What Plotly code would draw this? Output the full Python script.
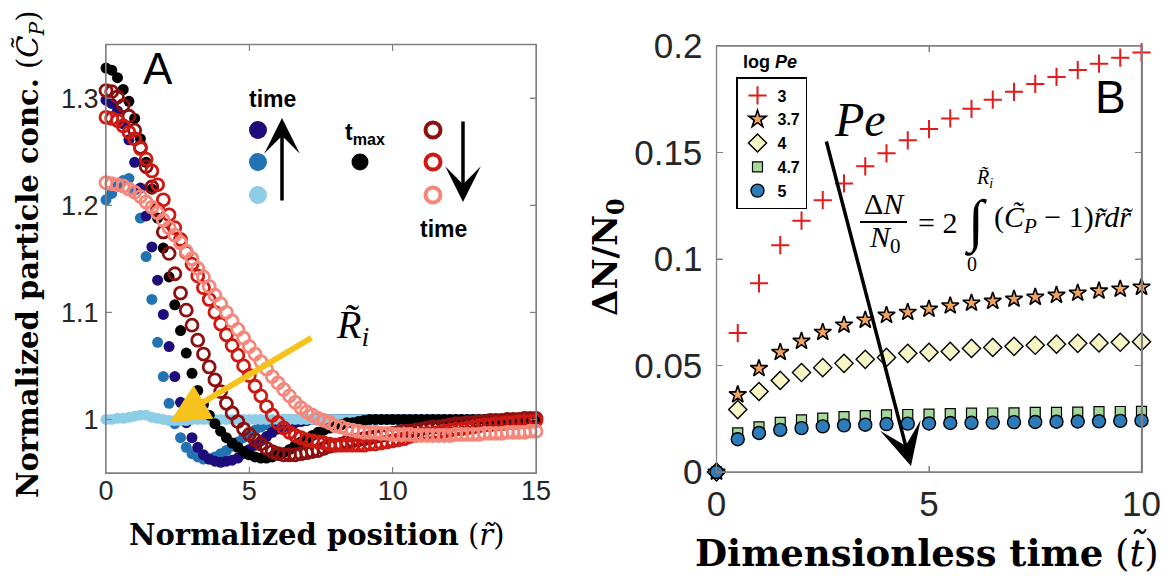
import plotly.graph_objects as go

FIG_W, FIG_H = 1175, 579

# ---------------- Panel A: radial concentration profiles ----------------
r_pos = [
    0, 0.2, 0.4, 0.6, 0.8, 1.0, 1.2, 1.4, 1.6, 1.8,
    2.0, 2.2, 2.4, 2.6, 2.8, 3.0, 3.2, 3.4, 3.6, 3.8,
    4.0, 4.2, 4.4, 4.6, 4.8, 5.0, 5.2, 5.4, 5.6, 5.8,
    6.0, 6.2, 6.4, 6.6, 6.8, 7.0, 7.2, 7.4, 7.6, 7.8,
    8.0, 8.2, 8.4, 8.6, 8.8, 9.0, 9.2, 9.4, 9.6, 9.8,
    10.0, 10.2, 10.4, 10.6, 10.8, 11.0, 11.2, 11.4, 11.6, 11.8,
    12.0, 12.2, 12.4, 12.6, 12.8, 13.0, 13.2, 13.4, 13.6, 13.8,
    14.0, 14.2, 14.4, 14.6, 14.8, 15.0,
]

conc_early = [
    1.000, 1.000, 1.001, 1.001, 1.002, 1.003, 1.004, 1.004, 1.002, 1.001,
    1.000, 0.999, 0.999, 0.999, 0.999, 1.000, 1.000, 1.000, 1.000, 1.000,
    1.000, 1.000, 1.000, 1.000, 1.000, 1.000, 1.000, 1.000, 1.000, 1.000,
    1.000, 1.000, 1.000, 1.000, 1.000, 1.000, 1.000, 1.000, 1.000, 1.000,
    1.000, 1.000, 1.000, 1.000, 1.000, 1.000, 1.000, 1.000, 1.000, 1.000,
    1.000, 1.000, 1.000, 1.000, 1.000, 1.000, 1.000, 1.000, 1.000, 1.000,
    1.000, 1.000, 1.000, 1.000, 1.000, 1.000, 1.000, 1.000, 1.000, 1.000,
    1.000, 1.000, 1.000, 1.000, 1.000, 1.000,
]
conc_mid = [
    1.205, 1.211, 1.218, 1.223, 1.225, 1.214, 1.188, 1.152, 1.112, 1.072,
    1.040, 1.015, 0.996, 0.983, 0.974, 0.968, 0.965, 0.963, 0.963, 0.965,
    0.968, 0.971, 0.975, 0.979, 0.983, 0.987, 0.990, 0.993, 0.995, 0.997,
    0.999, 1.000, 1.000, 1.000, 1.000, 1.000, 1.000, 1.000, 1.000, 1.000,
    1.000, 1.000, 1.000, 1.000, 1.000, 1.000, 1.000, 1.000, 1.000, 1.000,
    1.000, 1.000, 1.000, 1.000, 1.000, 1.000, 1.000, 1.000, 1.000, 1.000,
    1.000, 1.000, 1.000, 1.000, 1.000, 1.000, 1.000, 1.000, 1.000, 1.000,
    1.000, 1.000, 1.000, 1.000, 1.000, 1.000,
]
conc_late = [
    1.298, 1.295, 1.288, 1.276, 1.261, 1.240, 1.216, 1.190, 1.161, 1.130,
    1.098, 1.068, 1.040, 1.016, 0.997, 0.983, 0.974, 0.967, 0.963, 0.961,
    0.960, 0.961, 0.962, 0.964, 0.968, 0.972, 0.976, 0.980, 0.984, 0.988,
    0.991, 0.993, 0.995, 0.997, 0.998, 0.999, 1.000, 1.000, 1.000, 1.000,
    1.000, 1.000, 1.000, 1.000, 1.000, 1.000, 1.000, 1.000, 1.000, 1.000,
    1.000, 1.000, 1.000, 1.000, 1.000, 1.000, 1.000, 1.000, 1.000, 1.000,
    1.000, 1.000, 1.000, 1.000, 1.000, 1.000, 1.000, 1.000, 1.000, 1.000,
    1.000, 1.000, 1.000, 1.000, 1.000, 1.000,
]
conc_tmax = [
    1.328, 1.326, 1.319, 1.308, 1.297, 1.281, 1.262, 1.240, 1.215, 1.188,
    1.160, 1.133, 1.107, 1.083, 1.062, 1.043, 1.027, 1.014, 1.004, 0.996,
    0.989, 0.983, 0.978, 0.974, 0.970, 0.967, 0.965, 0.964, 0.964, 0.965,
    0.967, 0.969, 0.972, 0.976, 0.979, 0.982, 0.985, 0.988, 0.990, 0.992,
    0.994, 0.995, 0.997, 0.997, 0.998, 0.999, 1.000, 1.000, 1.000, 1.000,
    1.000, 1.000, 1.000, 1.000, 1.000, 1.000, 1.000, 1.000, 1.000, 1.000,
    1.000, 1.000, 1.000, 1.000, 1.000, 1.000, 1.000, 1.000, 1.000, 1.000,
    1.000, 1.000, 1.000, 1.000, 1.000, 1.000,
]
conc_post1 = [
    1.307, 1.306, 1.301, 1.293, 1.283, 1.270, 1.254, 1.236, 1.217, 1.196,
    1.175, 1.155, 1.136, 1.118, 1.102, 1.088, 1.074, 1.061, 1.049, 1.037,
    1.026, 1.015, 1.006, 0.998, 0.991, 0.986, 0.981, 0.977, 0.973, 0.970,
    0.968, 0.967, 0.967, 0.967, 0.968, 0.969, 0.970, 0.971, 0.973, 0.975,
    0.976, 0.977, 0.979, 0.980, 0.981, 0.982, 0.983, 0.984, 0.985, 0.986,
    0.987, 0.988, 0.989, 0.989, 0.990, 0.991, 0.992, 0.993, 0.993, 0.994,
    0.995, 0.996, 0.996, 0.997, 0.997, 0.998, 0.998, 0.999, 0.999, 0.999,
    1.000, 1.000, 1.000, 1.001, 1.001, 1.001,
]
conc_post2 = [
    1.282, 1.281, 1.279, 1.274, 1.268, 1.262, 1.253, 1.243, 1.232, 1.219,
    1.205, 1.191, 1.179, 1.168, 1.156, 1.145, 1.134, 1.123, 1.112, 1.100,
    1.089, 1.079, 1.069, 1.060, 1.050, 1.041, 1.031, 1.022, 1.012, 1.004,
    0.997, 0.992, 0.988, 0.985, 0.983, 0.981, 0.980, 0.979, 0.978, 0.977,
    0.976, 0.976, 0.976, 0.976, 0.976, 0.976, 0.977, 0.977, 0.978, 0.979,
    0.980, 0.981, 0.982, 0.984, 0.985, 0.986, 0.987, 0.987, 0.988, 0.989,
    0.990, 0.991, 0.991, 0.992, 0.993, 0.994, 0.995, 0.995, 0.996, 0.996,
    0.997, 0.997, 0.998, 0.998, 0.998, 0.999,
]
conc_post3 = [
    1.221, 1.220, 1.219, 1.218, 1.215, 1.212, 1.208, 1.203, 1.198, 1.193,
    1.186, 1.179, 1.172, 1.165, 1.157, 1.150, 1.141, 1.133, 1.124, 1.116,
    1.108, 1.100, 1.092, 1.084, 1.076, 1.068, 1.061, 1.054, 1.047, 1.040,
    1.034, 1.028, 1.022, 1.016, 1.011, 1.007, 1.004, 1.001, 0.999, 0.997,
    0.994, 0.993, 0.991, 0.990, 0.989, 0.988, 0.988, 0.988, 0.987, 0.987,
    0.986, 0.986, 0.986, 0.986, 0.985, 0.985, 0.985, 0.985, 0.985, 0.985,
    0.985, 0.986, 0.986, 0.986, 0.986, 0.986, 0.987, 0.987, 0.987, 0.987,
    0.988, 0.988, 0.988, 0.988, 0.989, 0.989,
]

a_xticks = [0, 5, 10, 15]
a_yticks = [1, 1.1, 1.2, 1.3]
a_yticktext = ["1", "1.1", "1.2", "1.3"]

# ---------------- Panel B: excess particle number vs time ----------------
t_dimless = [0, 0.5, 1, 1.5, 2, 2.5, 3, 3.5, 4, 4.5, 5,
             5.5, 6, 6.5, 7, 7.5, 8, 8.5, 9, 9.5, 10]
dn_pe3 = [0, 0.0652, 0.0886, 0.1065, 0.118, 0.1276, 0.1355, 0.1435, 0.1496, 0.1557, 0.161,
          0.166, 0.1705, 0.1748, 0.1785, 0.1822, 0.1855, 0.1887, 0.1917, 0.1945, 0.197]
dn_pe37 = [0, 0.0363, 0.0486, 0.0562, 0.0614, 0.0656, 0.069, 0.0713, 0.0736, 0.075, 0.0765,
           0.078, 0.0793, 0.0802, 0.0812, 0.0821, 0.083, 0.084, 0.085, 0.0859, 0.0868]
dn_pe4 = [0, 0.0293, 0.0378, 0.043, 0.0467, 0.049, 0.051, 0.0529, 0.0538, 0.0557, 0.0562,
          0.0566, 0.058, 0.0585, 0.059, 0.0595, 0.06, 0.0604, 0.0606, 0.0609, 0.0612]
dn_pe47 = [0, 0.0184, 0.0212, 0.0233, 0.0245, 0.0253, 0.026, 0.0265, 0.0268, 0.027, 0.0272,
           0.0274, 0.0276, 0.0277, 0.0278, 0.028, 0.028, 0.0281, 0.0283, 0.0284, 0.0285]
dn_pe5 = [0, 0.0154, 0.0183, 0.0198, 0.0206, 0.0214, 0.0219, 0.0222, 0.0225, 0.0227, 0.0228,
          0.023, 0.0231, 0.0232, 0.0234, 0.0235, 0.0236, 0.0237, 0.0238, 0.024, 0.0241]
log_pe_labels = ["3", "3.7", "4", "4.7", "5"]

b_xticks = [0, 5, 10]
b_yticks = [0, 0.05, 0.1, 0.15, 0.2]
b_yticktext = ["0", "0.05", "0.1", "0.15", "0.2"]


def px(x):
    return x / FIG_W


def py(y):
    return 1 - y / FIG_H


fig = go.Figure()

# Panel A traces (filled dots up to t_max, open rings afterwards)
profiles = [
    (conc_mid, "#2373b3", "circle"),
    (conc_late, "#1d0c7a", "circle"),
    (conc_early, "#8ecde6", "circle"),
    (conc_tmax, "#000000", "circle"),
    (conc_post1, "#8c1010", "circle-open"),
    (conc_post2, "#cc1a12", "circle-open"),
    (conc_post3, "#f4877a", "circle-open"),
]
for vals, col, sym in profiles:
    is_open = sym.endswith("open")
    fig.add_trace(go.Scatter(
        x=r_pos, y=vals, mode="markers", xaxis="x", yaxis="y",
        showlegend=False, cliponaxis=False, hoverinfo="skip",
        marker=dict(symbol=sym, size=12 if is_open else 11, color=col,
                    line=dict(width=2.8 if is_open else 0, color=col)),
    ))

# Panel B traces
series_b = [
    (dn_pe3, "cross-thin", "#e41a1c", 13, "#e41a1c", 2),
    (dn_pe37, "star", "#f6a35a", 13, "#000000", 1.6),
    (dn_pe4, "diamond", "#f6f7c4", 14, "#000000", 1.4),
    (dn_pe47, "square", "#a6d89c", 10, "#000000", 1.2),
    (dn_pe5, "circle", "#2b7cb9", 13, "#000000", 1.4),
]
for (vals, sym, fill, size, edge, lw), name in zip(series_b, log_pe_labels):
    fig.add_trace(go.Scatter(
        x=t_dimless, y=vals, mode="markers", xaxis="x2", yaxis="y2",
        name=name, cliponaxis=False, hoverinfo="skip",
        marker=dict(symbol=sym, size=size, color=fill,
                    line=dict(width=lw, color=edge)),
    ))

axis_line = "#808080"
tick_font_a = dict(family="Liberation Sans", size=27, color="#262626")
tick_font_b = dict(family="Liberation Sans", size=35, color="#262626")
common = dict(showline=True, linecolor=axis_line, linewidth=1.3, mirror="ticks",
              ticks="inside", ticklen=6, tickcolor=axis_line, tickwidth=1,
              showgrid=False, zeroline=False, automargin=False)

fig.update_layout(
    template="none",
    width=FIG_W, height=FIG_H, autosize=False,
    margin=dict(l=0, r=0, t=0, b=0, pad=0, autoexpand=False),
    paper_bgcolor="white", plot_bgcolor="white",
    font=dict(family="Liberation Sans", color="black"),
    xaxis=dict(domain=[px(106), px(536)], range=[0, 15], tickvals=a_xticks,
               tickfont=tick_font_a, ticklabelstandoff=-7, anchor="y", **common),
    yaxis=dict(domain=[py(473), py(44.5)], range=[0.95, 1.35], tickvals=a_yticks,
               ticktext=a_yticktext, tickfont=tick_font_a, ticklabelstandoff=1,
               anchor="x", **common),
    xaxis2=dict(domain=[px(716.5), px(1141.5)], range=[0, 10], tickvals=b_xticks,
                tickfont=tick_font_b, ticklabelstandoff=1, anchor="y2", **common),
    yaxis2=dict(domain=[py(472), py(46)], range=[0, 0.2], tickvals=b_yticks,
                ticktext=b_yticktext, tickfont=tick_font_b, ticklabelstandoff=6,
                anchor="x2", **common),
    showlegend=True,
    legend=dict(x=px(736), y=py(77), xanchor="left", yanchor="top",
                bgcolor="white", bordercolor="black", borderwidth=1.5,
                font=dict(family="Liberation Sans", size=16, color="black", weight="bold"),
                traceorder="normal", itemwidth=30, tracegroupgap=0,
                itemclick=False, itemdoubleclick=False),
)

serif = "DejaVu Serif"
mathf = "Liberation Serif"


def label(x, y, text, size, family="Liberation Sans", angle=0, xanchor="center",
          color="black"):
    return dict(x=px(x), y=py(y), xref="paper", yref="paper", text=text,
                showarrow=False, textangle=angle, xanchor=xanchor, yanchor="middle",
                font=dict(family=family, size=size, color=color))


annotations = [
    # panel letters
    label(158, 69, "A", 44),
    label(1110, 97, "B", 46),
    # axis titles
    label(30, 255, "<b>Normalized particle conc.</b> (<i>C\u0303</i><sub><i>P</i></sub>)",
          29, family=serif, angle=-90),
    label(316, 535, "<b>Normalized position</b> (<i>r\u0303</i>)", 29, family=serif),
    label(927, 552, "<b>Dimensionless time</b> (<i>t\u0303</i>)", 37, family=serif),
    label(608, 257, "<b>\u0394N/N</b><sub><b>0</b></sub>", 34, family=serif, angle=-90),
    # panel A key texts
    label(272, 99, "<b>time</b>", 23),
    label(365, 133, "<b>t<sub>max</sub></b>", 23),
    label(443, 229, "<b>time</b>", 23),
    label(352, 327, "<i>R\u0303</i><sub><i>i</i></sub>", 40, family=mathf),
    # panel B texts
    label(860, 119, "<i>Pe</i>", 48, family=mathf),
    label(770, 62, "<b>log <i>Pe</i></b>", 18),
    label(884, 204, "\u0394<i>N</i>", 30, family=mathf),
    label(885, 239, "<i>N</i><sub>0</sub>", 30, family=mathf),
    label(937, 222, "= 2", 30, family=mathf),
    label(975, 222, "\u222b", 58, family=mathf),
    label(984, 178, "<i>R\u0303</i><sub><i>i</i></sub>", 20, family=mathf),
    label(972, 264, "0", 20, family=mathf),
    label(992, 219, "(<i>C\u0303</i><sub><i>P</i></sub> \u2212 1)<i>r\u0303dr\u0303</i>", 30,
          family=mathf, xanchor="left"),
]

# arrows
annotations += [
    # R_i pointer in panel A
    dict(x=2.232, y=0.9977, xref="x", yref="y", ax=143, ay=-85, text="",
         showarrow=True, arrowhead=2, arrowsize=1.3, arrowwidth=6,
         arrowcolor="#f6c31c", standoff=0),
    # increasing Pe arrow in panel B
    dict(x=4.576, y=0.0028, xref="x2", yref="y2", ax=-85, ay=-326, text="",
         showarrow=True, arrowhead=3, arrowsize=2.0, arrowwidth=3.5,
         arrowcolor="black", standoff=0),
    # time arrows in the panel A key
    dict(x=px(282), y=py(118), xref="paper", yref="paper", ax=0, ay=84, text="",
         showarrow=True, arrowhead=3, arrowsize=1.7, arrowwidth=3.5,
         arrowcolor="black", standoff=0),
    dict(x=px(463), y=py(202), xref="paper", yref="paper", ax=0, ay=-82, text="",
         showarrow=True, arrowhead=3, arrowsize=1.7, arrowwidth=3.5,
         arrowcolor="black", standoff=0),
]


def key_dot(cx, cy, rad, fill, line_col=None, lw=0):
    return dict(type="circle", xref="paper", yref="paper",
                xsizemode="pixel", ysizemode="pixel",
                xanchor=px(cx), yanchor=py(cy),
                x0=-rad, x1=rad, y0=-rad, y1=rad,
                fillcolor=fill, line=dict(color=line_col or fill, width=lw))


def frame(xr, yr):
    return dict(type="rect", xref=f"{xr} domain", yref=f"{yr} domain",
                x0=0, x1=1, y0=0, y1=1, layer="above",
                line=dict(color=axis_line, width=1.3), fillcolor="rgba(0,0,0,0)")


def tick_marks(xr, yr, xvals, yvals, w_px, h_px, ln=6):
    """Inward tick marks on all four sides of a boxed axes."""
    out = []
    fy, fx = ln / h_px, ln / w_px
    for v in xvals:
        for a, b in ((0, fy), (1 - fy, 1)):
            out.append(dict(type="line", xref=xr, yref=f"{yr} domain",
                            x0=v, x1=v, y0=a, y1=b, layer="above",
                            line=dict(color=axis_line, width=1)))
    for v in yvals:
        for a, b in ((0, fx), (1 - fx, 1)):
            out.append(dict(type="line", xref=f"{xr} domain", yref=yr,
                            x0=a, x1=b, y0=v, y1=v, layer="above",
                            line=dict(color=axis_line, width=1)))
    return out


shapes = [
    frame("x", "y"),
    frame("x2", "y2"),
    key_dot(258, 130, 9, "#1d0c7a"),
    key_dot(258, 162, 9, "#2373b3"),
    key_dot(258, 195, 9, "#8ecde6"),
    key_dot(360, 162, 8.5, "#000000"),
    key_dot(433, 130, 7.5, "white", "#8c1010", 4),
    key_dot(433, 162, 7.5, "white", "#cc1a12", 4),
    key_dot(433, 195, 7.5, "white", "#f4877a", 4),
    # fraction bar of the formula
    dict(type="line", xref="paper", yref="paper", x0=px(860), x1=px(907),
         y0=py(222), y1=py(222), line=dict(color="black", width=2)),
]
shapes += tick_marks("x", "y", a_xticks[1:-1], a_yticks, 430, 428.5)
shapes += tick_marks("x2", "y2", b_xticks[1:-1], b_yticks[1:-1], 425, 426)

fig.update_layout(annotations=annotations, shapes=shapes)
fig.write_html("out.html")
